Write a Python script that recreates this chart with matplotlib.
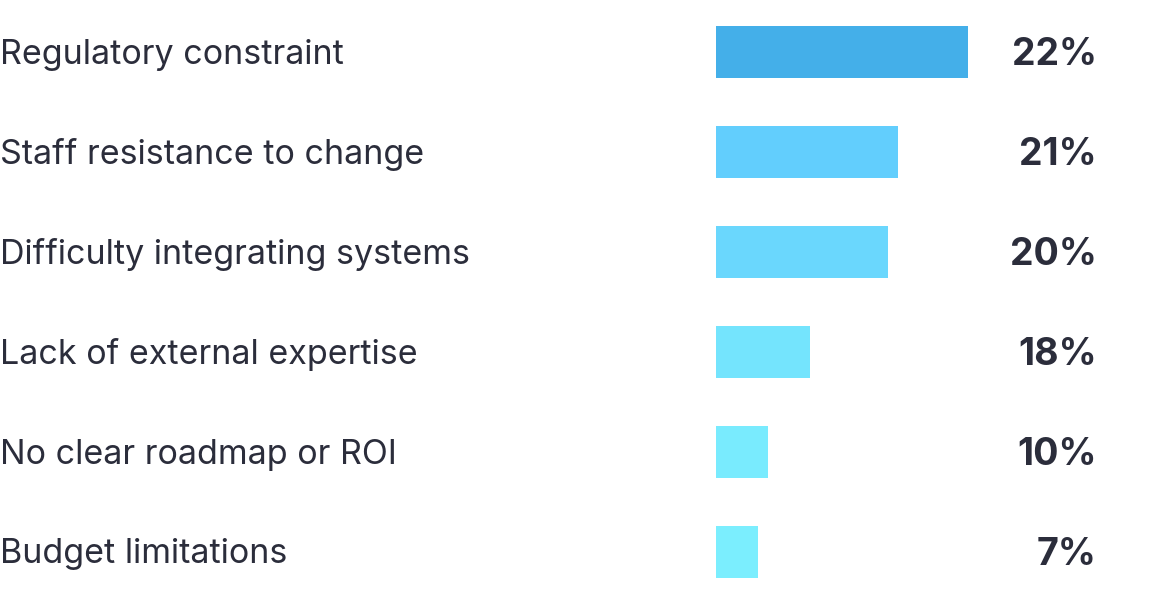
import matplotlib
matplotlib.use("Agg")
import matplotlib.pyplot as plt

categories = ["Regulatory constraint", "Staff resistance to change",
              "Difficulty integrating systems", "Lack of external expertise",
              "No clear roadmap or ROI", "Budget limitations"]
value_labels = ["22%", "21%", "20%", "18%", "10%", "7%"]
# bar lengths as drawn in the picture (not proportional to the labels)
bar_lengths = [25.2, 18.2, 17.2, 9.4, 5.2, 4.2]
colors = ["#44afe9", "#62cefd", "#6ad7fd", "#74e4fd", "#79ebfe", "#7beefe"]

text_color = "#2b2d3b"

fig = plt.figure(figsize=(11.68, 6.02), dpi=100)
ax = fig.add_axes([0, 0, 1, 1])
# 1 unit = 10 px, bars start at 716 px
ax.set_xlim(-71.6, 45.2)
ax.set_ylim(60.2, 0)
ax.axis("off")

y = [5.2 + 10 * i for i in range(len(categories))]
ax.barh(y, bar_lengths, height=5.2, left=0, color=colors)

for yi, cat, lab in zip(y, categories, value_labels):
    ax.text(-71.6, yi - 0.1, cat, ha="left", va="center_baseline", fontsize=24.5,
            color=text_color, family="Inter")
    ax.text(38.1, yi - 0.1, lab, ha="right", va="center_baseline", fontsize=27,
            color=text_color, family="Inter", fontweight="bold")

fig.savefig("out.png", dpi=100)
